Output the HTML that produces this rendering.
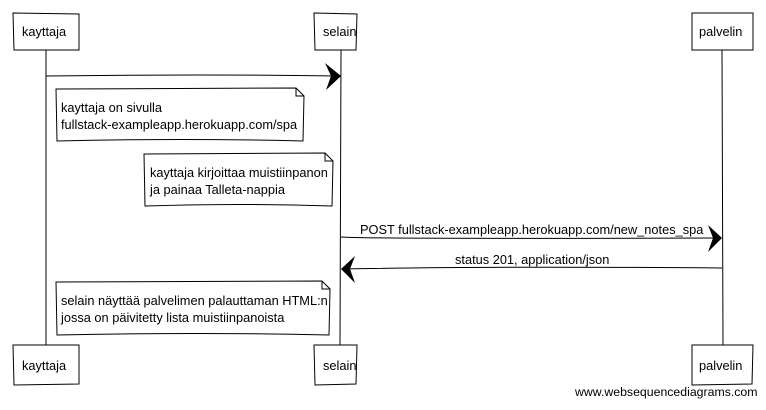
<!DOCTYPE html>
<html><head><meta charset="utf-8"><style>
body{margin:0;background:#fff;width:766px;height:405px;overflow:hidden}
svg text{font-family:"Liberation Sans",Arial,sans-serif;font-size:12.8px;fill:#000}
</style></head><body>
<svg width="766" height="405" viewBox="0 0 766 405" xmlns="http://www.w3.org/2000/svg">
<g stroke="#000" stroke-width="1" fill="none">
<line x1="46" y1="50" x2="46" y2="345"/>
<line x1="341" y1="50" x2="340" y2="345"/>
<line x1="722" y1="50" x2="723" y2="345"/>
</g>
<g stroke="#000" stroke-width="1" fill="#fff">
<path d="M13 13 L79 14 L79 50 L14 50 Z"/>
<path d="M314 13 L357 14 L356 50 L315 50 Z"/>
<path d="M692 13 L753 13 L753 50 L692 50 Z"/>
<path d="M13 345 L79 345 L79 384 L14 385 Z"/>
<path d="M314 345 L357 345 L356 384 L315 385 Z"/>
<path d="M692 345 L753 345 L752 384 L692 385 Z"/>
</g>
<text x="22" y="36">kayttaja</text>
<text x="323" y="36">selain</text>
<text x="699" y="36">palvelin</text>
<text x="22" y="370">kayttaja</text>
<text x="323" y="370">selain</text>
<text x="699" y="370">palvelin</text>
<path d="M46 76 Q200 74 338 76" stroke="#000" fill="none"/>
<path d="M325 63 L341 76 L326 90 L331 76 Z" fill="#000"/>
<g stroke="#000" fill="#fff">
<path d="M56 89 L296 88 L304 96 L303 141 Q180 138 57 141 Z"/>
<path d="M296 88 L296 96 L304 96" fill="none"/>
<path d="M144 154 L325 153 L333 161 L332 206 Q240 203 145 206 Z"/>
<path d="M325 153 L325 161 L333 161" fill="none"/>
<path d="M56 282 L322 281 L330 289 L329 335 Q200 332 57 335 Z"/>
<path d="M322 281 L322 289 L330 289" fill="none"/>
</g>
<text x="61" y="112">kayttaja on sivulla</text>
<text x="61" y="129">fullstack-exampleapp.herokuapp.com/spa</text>
<text x="150" y="177">kayttaja kirjoittaa muistiinpanon</text>
<text x="150" y="194">ja painaa Talleta-nappia</text>
<text x="61" y="305">selain näyttää palvelimen palauttaman HTML:n</text>
<text x="61" y="322">jossa on päivitetty lista muistiinpanoista</text>
<text x="360" y="234">POST fullstack-exampleapp.herokuapp.com/new_notes_spa</text>
<path d="M341 237 Q360 239 720 238" stroke="#000" fill="none"/>
<path d="M708 225 L722 238 L708 252 L713 238 Z" fill="#000"/>
<text x="455" y="264">status 201, application/json</text>
<path d="M343 269 Q500 266 722 268" stroke="#000" fill="none"/>
<path d="M355 256 L341 269 L355 283 L350 269 Z" fill="#000"/>
<text x="575" y="396" style="font-size:12.3px">www.websequencediagrams.com</text>
</svg>
</body></html>
